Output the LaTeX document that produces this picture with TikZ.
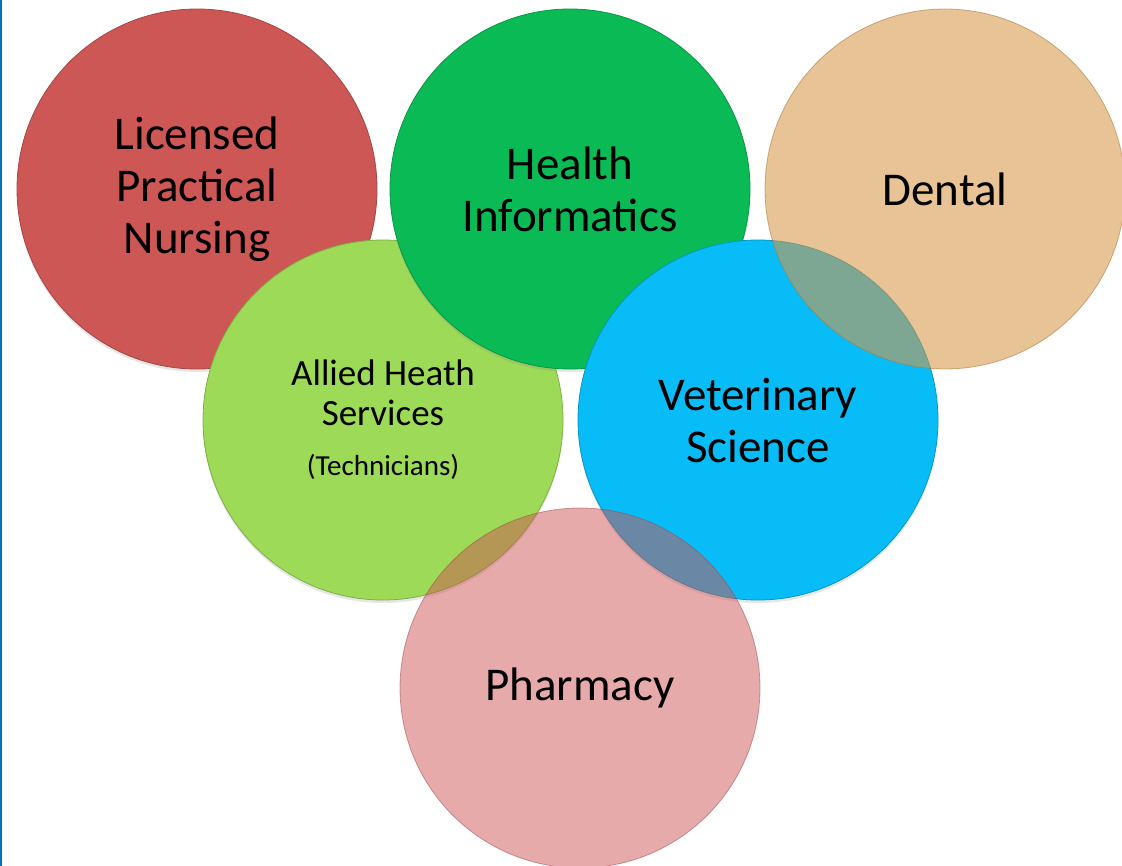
\documentclass[tikz,border=0pt]{standalone}
\usepackage{fontspec}
\setmainfont{Carlito}
\usepackage{tikz}
\usetikzlibrary{positioning, shadows}
\definecolor{nursecolor}{RGB}{205, 87, 85}
\definecolor{infocolor}{RGB}{10, 187, 85}
\definecolor{alliedcolor}{RGB}{157, 218, 87}
\definecolor{vetcolor}{RGB}{8, 188, 248}
\definecolor{dentalcolor}{RGB}{215, 150, 71}
\definecolor{pharmcolor}{RGB}{205, 85, 85}
\definecolor{edgeblue}{RGB}{0, 114, 198}

\begin{document}
\begin{tikzpicture}[
    x=1pt, y=1pt,
    node distance=374pt and 374pt,
    field/.style={circle, minimum size=360pt, inner sep=0pt, align=center, on grid,
        font=\fontsize{47}{52}\selectfont, draw=#1!80!black, line width=0.8pt, fill=#1},
    solid field/.style={field=#1, drop shadow={opacity=0.2, shadow xshift=0pt, shadow yshift=-3pt}},
    glass/.style={fill opacity=#1, draw opacity=#1, text opacity=1}
]
    \useasboundingbox (0,0) rectangle (1122,-866);
    \draw[edgeblue, line width=2.5pt] (1,0) -- (1,-866);

    % Circles
    \node[solid field=nursecolor] (nursing) at (197,-189) {Licensed\\Practical\\Nursing};
    \node[solid field=alliedcolor, font=\fontsize{37}{40}\selectfont,
        below right=231pt and 186pt of nursing] (allied)
        {Allied Heath\\Services\\[10pt]{\fontsize{29}{30}\selectfont (Technicians)}};
    \node[solid field=infocolor, right=373pt of nursing] (informatics) {Health\\Informatics};
    \node[solid field=vetcolor, right=375pt of allied] (vet) {Veterinary\\Science};
    \node[field=dentalcolor, glass=0.57, right=375pt of informatics] (dental) {Dental};
    \node[field=pharmcolor, glass=0.5, below right=268pt and 197pt of allied] (pharmacy) {Pharmacy};
\end{tikzpicture}
\end{document}
